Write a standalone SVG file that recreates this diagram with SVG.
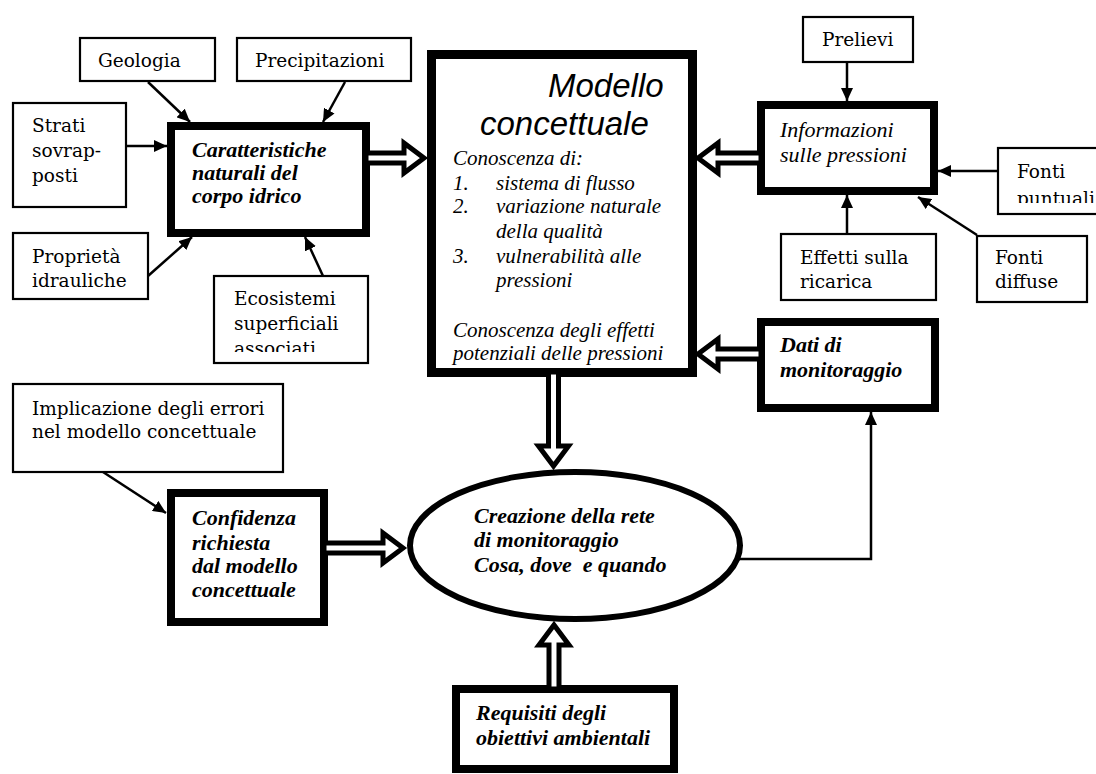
<svg xmlns="http://www.w3.org/2000/svg" width="1096" height="774" viewBox="0 0 1096 774">
<style>
.thin{fill:#fff;stroke:#000;stroke-width:2.2}
.thick{fill:#fff;stroke:#000;stroke-width:8}
.t{font-family:"DejaVu Serif","Liberation Serif",serif;font-size:18.5px;fill:#000}
.bi{font-family:"Liberation Serif",serif;font-size:22px;font-style:italic;font-weight:bold;fill:#000}
.it{font-family:"Liberation Serif",serif;font-size:21px;font-style:italic;fill:#000}
.hd{font-family:"Liberation Sans",Arial,sans-serif;font-size:33px;font-style:italic;fill:#000}
.ln{fill:none;stroke:#000;stroke-width:2.5}
.dbl{fill:#fff;stroke:#000;stroke-width:5;stroke-linejoin:miter;stroke-miterlimit:10}
</style>
<defs>
<marker id="ah" markerUnits="userSpaceOnUse" markerWidth="14" markerHeight="12" refX="13" refY="6" orient="auto">
<path d="M0,0 L13,6 L0,12 z" fill="#000"/>
</marker>
<clipPath id="clipEco"><rect x="214" y="276" width="154" height="76"/></clipPath>
<clipPath id="clipFp"><rect x="998" y="148" width="98" height="55"/></clipPath>
</defs>

<g id="geologia"><rect class="thin" x="80" y="38" width="135" height="43"/><text class="t" x="98" y="67">Geologia</text></g>
<g id="precipitazioni"><rect class="thin" x="237" y="38" width="174" height="43"/><text class="t" x="255" y="67">Precipitazioni</text></g>
<g id="strati"><rect class="thin" x="13" y="103" width="113" height="104"/><text class="t" x="32" y="132">Strati</text><text class="t" x="32" y="157">sovrap-</text><text class="t" x="32" y="182">posti</text></g>
<g id="proprieta"><rect class="thin" x="13" y="233" width="135" height="66"/><text class="t" x="32" y="263">Proprietà</text><text class="t" x="32" y="287">idrauliche</text></g>
<g id="ecosistemi"><rect class="thin" x="214" y="276" width="154" height="87"/><g clip-path="url(#clipEco)"><text class="t" x="234" y="305">Ecosistemi</text><text class="t" x="234" y="330">superficiali</text><text class="t" x="234" y="355">associati</text></g></g>
<g id="caratteristiche"><rect class="thick" x="171" y="126" width="195" height="107"/><text class="bi" x="192" y="157">Caratteristiche</text><text class="bi" x="192" y="180">naturali del</text><text class="bi" x="192" y="203">corpo idrico</text></g>

<g id="modello"><rect x="431.5" y="54.5" width="261" height="318" fill="#fff" stroke="#000" stroke-width="9"/>
<text class="hd" x="548" y="97">Modello</text>
<text class="hd" x="480" y="135">concettuale</text>
<text class="it" x="453" y="165">Conoscenza di:</text>
<text class="it" x="453" y="190">1.</text><text class="it" x="496" y="190">sistema di flusso</text>
<text class="it" x="453" y="213">2.</text><text class="it" x="496" y="213">variazione naturale</text>
<text class="it" x="496" y="238">della qualità</text>
<text class="it" x="453" y="263">3.</text><text class="it" x="496" y="263">vulnerabilità alle</text>
<text class="it" x="496" y="287">pressioni</text>
<text class="it" x="453" y="337">Conoscenza degli effetti</text>
<text class="it" x="453" y="360">potenziali delle pressioni</text>
</g>

<g id="prelievi"><rect class="thin" x="803" y="17" width="110" height="45"/><text class="t" x="822" y="46">Prelievi</text></g>
<g id="informazioni"><rect class="thick" x="761" y="105" width="173" height="86"/><text class="it" x="780" y="137" style="font-size:22px">Informazioni</text><text class="it" x="780" y="162" style="font-size:22px">sulle pressioni</text></g>
<g id="fonti-puntuali"><rect class="thin" x="998" y="148" width="110" height="66"/><g clip-path="url(#clipFp)"><text class="t" x="1017" y="178">Fonti</text><text class="t" x="1017" y="205">puntuali</text></g></g>
<g id="effetti"><rect class="thin" x="781" y="234" width="155" height="66"/><text class="t" x="800" y="264">Effetti sulla</text><text class="t" x="800" y="288">ricarica</text></g>
<g id="fonti-diffuse"><rect class="thin" x="977" y="236" width="110" height="66"/><text class="t" x="995" y="264">Fonti</text><text class="t" x="995" y="288">diffuse</text></g>
<g id="dati"><rect class="thick" x="761" y="322" width="174" height="86"/><text class="bi" x="780" y="352">Dati di</text><text class="bi" x="780" y="377">monitoraggio</text></g>

<g id="implicazione"><rect class="thin" x="13" y="384" width="270" height="88"/><text class="t" x="32" y="415">Implicazione degli errori</text><text class="t" x="32" y="438">nel modello concettuale</text></g>
<g id="confidenza"><rect class="thick" x="171" y="493" width="153" height="129"/><text class="bi" x="192" y="525">Confidenza</text><text class="bi" x="192" y="550">richiesta</text><text class="bi" x="192" y="573">dal modello</text><text class="bi" x="192" y="597">concettuale</text></g>
<g id="creazione"><ellipse cx="575" cy="545.5" rx="165" ry="73.5" fill="#fff" stroke="#000" stroke-width="6"/><text class="bi" x="474" y="523">Creazione della rete</text><text class="bi" x="474" y="547">di monitoraggio</text><text class="bi" x="474" y="572" xml:space="preserve">Cosa, dove  e quando</text></g>
<g id="requisiti"><rect class="thick" x="456" y="689" width="218" height="80"/><text class="bi" x="476" y="720">Requisiti degli</text><text class="bi" x="476" y="745">obiettivi ambientali</text></g>

<g id="connectors">
<line class="ln" x1="148" y1="82" x2="190" y2="122" marker-end="url(#ah)"/>
<line class="ln" x1="345" y1="82" x2="323" y2="122" marker-end="url(#ah)"/>
<line class="ln" x1="127" y1="146" x2="167" y2="146" marker-end="url(#ah)"/>
<line class="ln" x1="148" y1="276" x2="192" y2="237" marker-end="url(#ah)"/>
<line class="ln" x1="323" y1="276" x2="305" y2="237" marker-end="url(#ah)"/>
<line class="ln" x1="847" y1="62" x2="847" y2="101" marker-end="url(#ah)"/>
<line class="ln" x1="998" y1="171" x2="938" y2="171" marker-end="url(#ah)"/>
<line class="ln" x1="847" y1="234" x2="847" y2="195" marker-end="url(#ah)"/>
<line class="ln" x1="977" y1="235" x2="918" y2="197" marker-end="url(#ah)"/>
<line class="ln" x1="103" y1="472" x2="166" y2="513" marker-end="url(#ah)"/>
<polyline class="ln" points="738,559 871,559 871,412" marker-end="url(#ah)"/>
<polygon class="dbl" points="366,153 404,153 404,143 424,158 404,173 404,163 366,163"/>
<polygon class="dbl" points="761,153 718,153 718,143 698,158 718,173 718,163 761,163"/>
<polygon class="dbl" points="761,349 718,349 718,339 698,354 718,369 718,359 761,359"/>
<polygon class="dbl" points="548.5,372 548.5,446 538.5,446 553.5,466 568.5,446 558.5,446 558.5,372"/>
<polygon class="dbl" points="324,543 383,543 383,533 403,548 383,563 383,553 324,553"/>
<polygon class="dbl" points="549,689 549,645 539,645 554,625 569,645 559,645 559,689"/>
</g>
</svg>
